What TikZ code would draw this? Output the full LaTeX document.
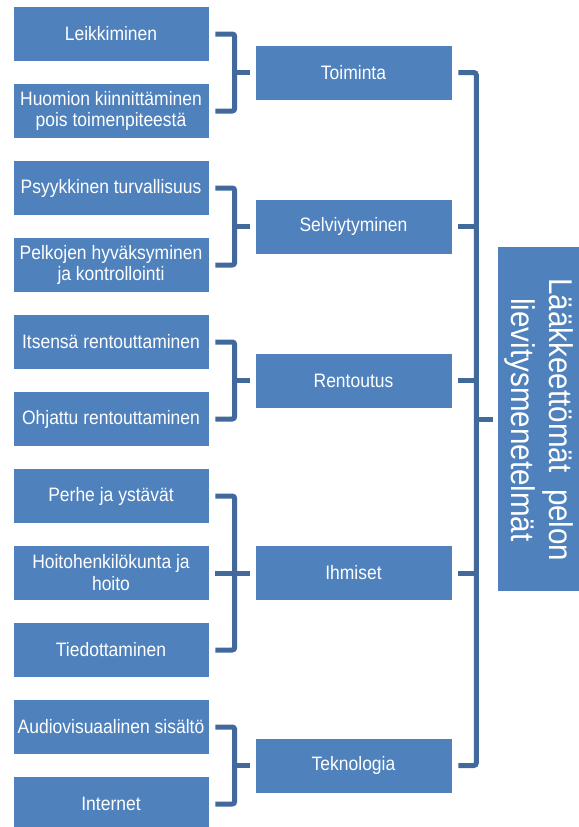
\documentclass[tikz,border=0pt]{standalone}
\usepackage{fontspec}
\setmainfont{Liberation Sans}[FakeStretch=0.9]
\definecolor{boxblue}{RGB}{79,129,189}
\definecolor{lineblue}{RGB}{65,105,156}
\begin{document}
\begin{tikzpicture}[x=1bp,y=-1bp,
  box/.style={draw=white, line width=0.6bp, fill=boxblue, text=white,
    minimum width=196bp, minimum height=55bp, inner sep=0pt, align=center,
    font=\fontsize{19.5}{22}\selectfont},
  midbox/.style={box, minimum width=197bp},
  conn/.style={draw=lineblue, line width=5bp, rounded corners=2.5bp}]
\useasboundingbox (0,0) rectangle (579,827);
\clip (0,0) rectangle (579,827);
% left boxes
\node[box] (l1) at (111,34) {Leikkiminen};
\node[box] (l2) at (111,111) {Huomion kiinnittäminen\\pois toimenpiteestä};
\node[box] (l3) at (111,188) {Psyykkinen turvallisuus};
\node[box] (l4) at (111,265) {Pelkojen hyväksyminen\\ja kontrollointi};
\node[box] (l5) at (111,342) {Itsensä rentouttaminen};
\node[box] (l6) at (111,419) {Ohjattu rentouttaminen};
\node[box] (l7) at (111,496) {Perhe ja ystävät};
\node[box] (l8) at (111,573) {Hoitohenkilökunta ja\\hoito};
\node[box] (l9) at (111,650) {Tiedottaminen};
\node[box] (l10) at (111,727) {Audiovisuaalinen sisältö};
\node[box] (l11) at (111,804) {Internet};
% middle boxes
\node[midbox] (m1) at (353.5,72.5) {Toiminta};
\node[midbox] (m2) at (353.5,226.5) {Selviytyminen};
\node[midbox] (m3) at (353.5,380.5) {Rentoutus};
\node[midbox] (m4) at (353.5,573) {Ihmiset};
\node[midbox] (m5) at (353.5,765.5) {Teknologia};
% right box
\node[fill=boxblue, minimum width=110bp, minimum height=344bp, inner sep=0pt] (R) at (553,419) {};
\node[rotate=-90, text=white, align=center, inner sep=0pt,
  font=\fontsize{33}{39}\selectfont] (Rt) at (539,420) {Lääkkeettömät\ \ pelon\\lievitysmenetelmät};
% brackets left -> middle
\foreach \a/\b/\m in {l1/l2/m1, l3/l4/m2, l5/l6/m3, l7/l9/m4, l10/l11/m5}{
  \draw[conn] ([xshift=6bp]\a.east) -| ([xshift=-20bp]\m.west) |- ([xshift=6bp]\b.east);
  \draw[conn] ([xshift=-20bp]\m.west) -- ([xshift=-5bp]\m.west);
}
\draw[conn] ([xshift=6bp]l8.east) -- ([xshift=-20bp]m4.west);
% main bracket
\coordinate (top) at ([xshift=24bp]m1.east);
\coordinate (bot) at ([xshift=24bp]m5.east);
\draw[conn] ([xshift=6bp]m1.east) -- (top) -- (bot) -- ([xshift=6bp]m5.east);
\foreach \m in {m2,m3,m4}{
  \draw[conn] ([xshift=6bp]\m.east) -- (top |- \m.east);
}
\draw[conn] (top |- R.west) -- ([xshift=-5bp]R.west);
\end{tikzpicture}
\end{document}
